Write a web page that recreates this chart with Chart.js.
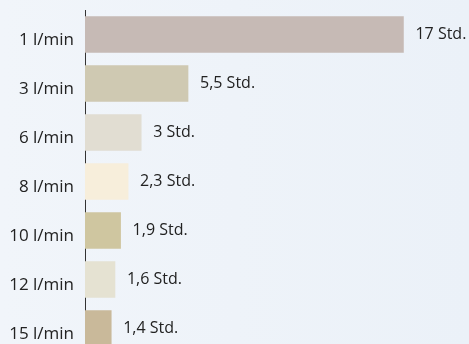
<!DOCTYPE html>
<html>
<head>
<meta charset="utf-8">
<script src="https://cdn.jsdelivr.net/npm/chart.js@4"></script>
<style>
  html, body { margin: 0; padding: 0; overflow: hidden; }
  body { width: 469px; height: 344px; background: linear-gradient(to right, #f1f5fa, #ebf1f8); }
  #wrap { position: absolute; left: 0; top: 0; width: 469px; height: 353px; }
</style>
</head>
<body>
<div id="wrap"><canvas id="flowChart" width="469" height="353"></canvas></div>
<script>
const categories = ['1 l/min', '3 l/min', '6 l/min', '8 l/min', '10 l/min', '12 l/min', '15 l/min'];
const hours = [17, 5.5, 3, 2.3, 1.9, 1.6, 1.4];
const valueLabels = ['17 Std.', '5,5 Std.', '3 Std.', '2,3 Std.', '1,9 Std.', '1,6 Std.', '1,4 Std.'];
const barColors = ['#c6bab5', '#cfc9b2', '#e1ddd2', '#f7eedb', '#cfc6a0', '#e5e2d2', '#c9b99a'];

const FONT = '"Open Sans", sans-serif';

// writes "x Std." to the right of each bar
const valueLabelPlugin = {
  id: 'valueLabels',
  afterDatasetsDraw(chart) {
    const c = chart.ctx;
    const meta = chart.getDatasetMeta(0);
    c.save();
    c.font = '16px ' + FONT;
    c.fillStyle = '#222';
    c.textAlign = 'left';
    c.textBaseline = 'middle';
    meta.data.forEach((bar, i) => {
      c.fillText(valueLabels[i], bar.x + 12, bar.y);
    });
    c.restore();
  }
};

const ctx = document.getElementById('flowChart').getContext('2d');
new Chart(ctx, {
  type: 'bar',
  data: {
    labels: categories,
    datasets: [{
      data: hours,
      backgroundColor: barColors,
      borderWidth: 0,
      barThickness: 36
    }]
  },
  options: {
    indexAxis: 'y',
    responsive: false,
    animation: false,
    layout: { padding: { top: 10, left: 0, right: 0, bottom: 0 } },
    plugins: {
      legend: { display: false },
      tooltip: { enabled: false }
    },
    scales: {
      x: {
        display: false,
        min: 0,
        max: 20.5
      },
      y: {
        afterFit(scale) {
          scale.width = 85;
          scale.paddingTop = 0;
          scale.paddingBottom = 0;
        },
        grid: { display: false, drawTicks: false },
        border: { display: true, color: '#333', width: 1 },
        ticks: {
          color: '#222',
          padding: 11,
          font: { family: FONT, size: 17 },
          labelOffset: 6
        }
      }
    }
  },
  plugins: [valueLabelPlugin]
});
</script>
</body>
</html>
